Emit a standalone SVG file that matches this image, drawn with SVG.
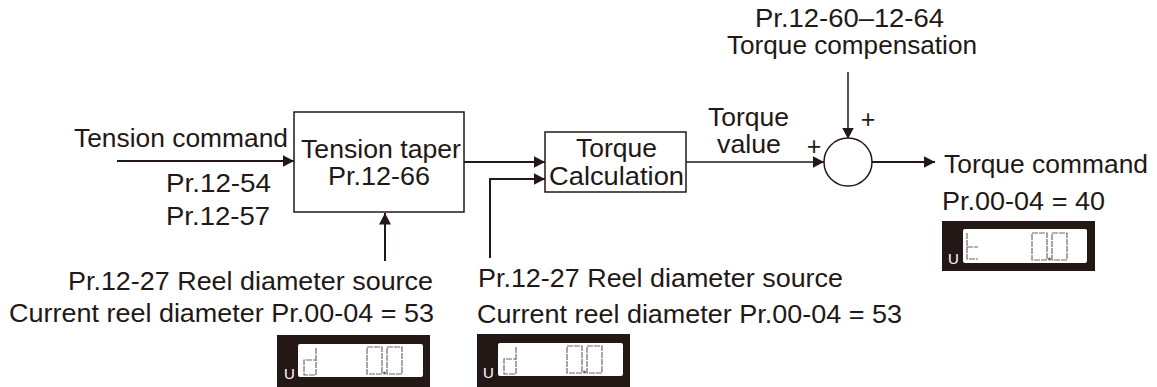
<svg xmlns="http://www.w3.org/2000/svg" width="1157" height="387" viewBox="0 0 1157 387">
<style>
text{font-family:"Liberation Sans",Arial,sans-serif;font-size:25px;fill:#231815}
.m{text-anchor:middle}
.box{fill:#fff;stroke:#231815;stroke-width:1.5}
.ln{fill:none;stroke:#231815;stroke-width:2}
.thin{fill:none;stroke:#231815;stroke-width:1.5}
.lcd{fill:#231815}
.scr{fill:#fff}
.seg{fill:none;stroke:#6f6a68;stroke-width:1.2;stroke-dasharray:6 1}
.u{font-size:15px;fill:#fff}
</style>
<defs>
<marker id="a" markerUnits="userSpaceOnUse" markerWidth="12" markerHeight="12" refX="11.500" refY="6" orient="auto"><path d="M0 0L11.500 6L0 12Z" fill="#231815"/></marker>
<g id="digits">
<rect x="0" y="0" width="15" height="27" class="seg"/>
<rect x="20" y="0" width="15" height="27" class="seg"/>
<circle cx="17.500" cy="26" r="1.500" fill="#6f6a68"/>
</g>
</defs>
<g id="connectors">
<path class="ln" marker-end="url(#a)" d="M117 161H294"/>
<path class="ln" marker-end="url(#a)" d="M464 162H545"/>
<path class="ln" marker-end="url(#a)" d="M490 258V179H545"/>
<path class="ln" marker-end="url(#a)" d="M385 261V213"/>
<path class="thin" marker-end="url(#a)" d="M686 162H824"/>
<path class="thin" marker-end="url(#a)" d="M848 72V139"/>
<path class="ln" marker-end="url(#a)" d="M872 162H935"/>
</g>
<g id="tension-taper"><rect class="box" x="294" y="112" width="170" height="100"/>
<text x="301" y="158" textLength="160" lengthAdjust="spacingAndGlyphs">Tension taper</text><text x="328" y="185" textLength="102" lengthAdjust="spacingAndGlyphs">Pr.12-66</text></g>
<g id="torque-calculation"><rect class="box" x="545" y="132" width="141" height="60"/>
<text x="576" y="157" textLength="81" lengthAdjust="spacingAndGlyphs">Torque</text><text x="549" y="185" textLength="135" lengthAdjust="spacingAndGlyphs">Calculation</text></g>
<g id="summer"><circle cx="848" cy="162" r="24" fill="#fff" stroke="#231815" stroke-width="1.500"/></g>
<g id="labels">
<text x="755" y="27" textLength="189" lengthAdjust="spacingAndGlyphs">Pr.12-60–12-64</text>
<text x="727" y="54" textLength="250" lengthAdjust="spacingAndGlyphs">Torque compensation</text>
<text x="74" y="147" textLength="214" lengthAdjust="spacingAndGlyphs">Tension command</text>
<text x="166" y="192" textLength="105" lengthAdjust="spacingAndGlyphs">Pr.12-54</text>
<text x="166" y="225" textLength="104" lengthAdjust="spacingAndGlyphs">Pr.12-57</text>
<text x="708" y="126" textLength="81" lengthAdjust="spacingAndGlyphs">Torque</text>
<text x="717" y="153" textLength="64" lengthAdjust="spacingAndGlyphs">value</text>
<text class="m" x="814" y="155">+</text>
<text class="m" x="868" y="128">+</text>
<text x="944" y="173" textLength="204" lengthAdjust="spacingAndGlyphs">Torque command</text>
<text x="942" y="210" textLength="163" lengthAdjust="spacingAndGlyphs">Pr.00-04 = 40</text>
<text x="68" y="290" textLength="365" lengthAdjust="spacingAndGlyphs">Pr.12-27 Reel diameter source</text>
<text x="9" y="322" textLength="425" lengthAdjust="spacingAndGlyphs">Current reel diameter Pr.00-04 = 53</text>
<text x="478" y="287" textLength="365" lengthAdjust="spacingAndGlyphs">Pr.12-27 Reel diameter source</text>
<text x="477" y="323" textLength="425" lengthAdjust="spacingAndGlyphs">Current reel diameter Pr.00-04 = 53</text>
</g>
<g id="lcd-torque"><rect class="lcd" x="942" y="221" width="153" height="50"/><rect class="scr" x="963" y="229" width="124" height="34" rx="2"/>
<text class="u" x="948" y="264">U</text>
<path class="seg" d="M967 233V259H978M967 247H978"/><use href="#digits" x="1032" y="233"/></g>
<g id="lcd-diameter-1"><rect class="lcd" x="277" y="335" width="153" height="52"/><rect class="scr" x="298" y="344" width="125" height="33" rx="2"/>
<text class="u" x="284" y="379">U</text>
<path class="seg" d="M316 348V375H304V360H316"/><use href="#digits" x="367" y="347"/></g>
<g id="lcd-diameter-2"><rect class="lcd" x="477" y="334" width="153" height="53"/><rect class="scr" x="498" y="343" width="125" height="33" rx="2"/>
<text class="u" x="483" y="378">U</text>
<path class="seg" d="M516 347V374H504V359H516"/><use href="#digits" x="567" y="346"/></g>
</svg>
